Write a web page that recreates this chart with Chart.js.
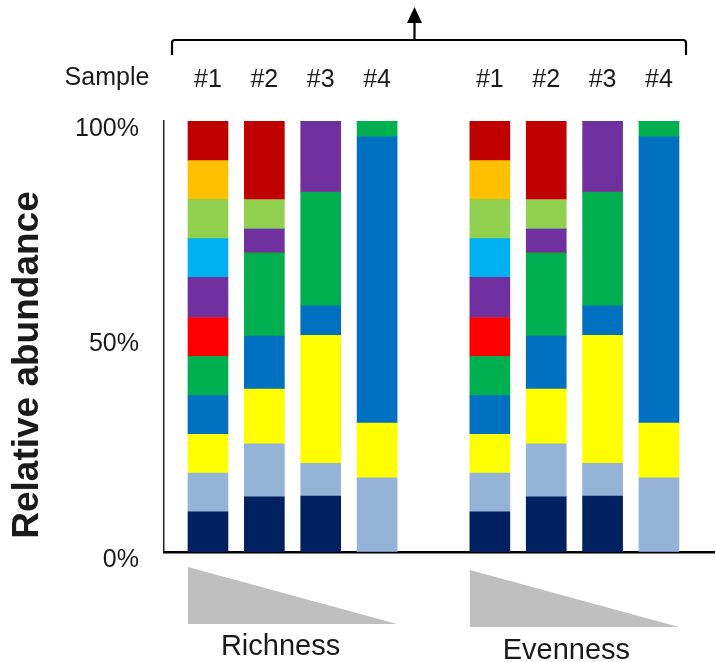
<!DOCTYPE html>
<html>
<head>
<meta charset="utf-8">
<script src="https://cdn.jsdelivr.net/npm/chart.js@4.4.1/dist/chart.umd.min.js"></script>
<style>
html, body { margin: 0; padding: 0; background: #fff; }
#wrap { width: 716px; height: 662px; }
</style>
</head>
<body>
<div id="wrap"><canvas id="chart" width="716" height="662"></canvas></div>
<script>
// x positions 0-3 = richness samples, 5-8 = evenness samples (4 is the gap)
const samplePositions = [0, 1, 2, 3, 5, 6, 7, 8];
const sampleLabels = ['#1', '#2', '#3', '#4', '#1', '#2', '#3', '#4'];
const groupLabels = ['Richness', 'Evenness'];
const yTickValues = [0, 50, 100];

// relative abundance (%) per taxon, listed from the bottom of the stack up
const taxonNavy       = [9.3, 12.8, 13.0, 0,    9.3, 12.8, 13.0, 0];
const taxonLightBlue  = [9.0, 12.3, 7.6,  17.2, 9.0, 12.3, 7.6,  17.2];
const taxonYellow     = [9.0, 12.7, 29.7, 12.7, 9.0, 12.7, 29.7, 12.7];
const taxonBlue       = [9.0, 12.3, 6.8,  66.4, 9.0, 12.3, 6.8,  66.4];
const taxonGreen      = [9.1, 19.3, 26.4, 3.7,  9.1, 19.3, 26.4, 3.7];
const taxonRed        = [9.0, 0,    0,    0,    9.0, 0,    0,    0];
const taxonPurple     = [9.3, 5.5,  16.5, 0,    9.3, 5.5,  16.5, 0];
const taxonCyan       = [9.0, 0,    0,    0,    9.0, 0,    0,    0];
const taxonLightGreen = [9.1, 6.8,  0,    0,    9.1, 6.8,  0,    0];
const taxonOrange     = [9.0, 0,    0,    0,    9.0, 0,    0,    0];
const taxonDarkRed    = [9.2, 18.3, 0,    0,    9.2, 18.3, 0,    0];

const taxa = [
    { name: 'Taxon 1', values: taxonNavy, color: '#002060' },
    { name: 'Taxon 2', values: taxonLightBlue, color: '#95B3D7' },
    { name: 'Taxon 3', values: taxonYellow, color: '#FFFF00' },
    { name: 'Taxon 4', values: taxonBlue, color: '#0070C0' },
    { name: 'Taxon 5', values: taxonGreen, color: '#00B050' },
    { name: 'Taxon 6', values: taxonRed, color: '#FF0000' },
    { name: 'Taxon 7', values: taxonPurple, color: '#7030A0' },
    { name: 'Taxon 8', values: taxonCyan, color: '#00B0F0' },
    { name: 'Taxon 9', values: taxonLightGreen, color: '#92D050' },
    { name: 'Taxon 10', values: taxonOrange, color: '#FFC000' },
    { name: 'Taxon 11', values: taxonDarkRed, color: '#C00000' }
];

const FONT = "'Liberation Sans', Arial, sans-serif";
const TEXT = '#1a1a1a';
const X_MIN = -0.78;
const X_MAX = 8.976;

const datasets = taxa.map(t => ({
    label: t.name,
    data: t.values.map((v, i) => ({ x: samplePositions[i], y: v })),
    backgroundColor: t.color,
    borderWidth: 0,
    barThickness: 40
}));

const decorations = {
    id: 'decorations',
    afterDraw(chart) {
        const ctx = chart.ctx;
        const xs = chart.scales.x;
        ctx.save();

        // "Sample" row title
        ctx.fillStyle = TEXT;
        ctx.font = '25px ' + FONT;
        ctx.textAlign = 'center';
        ctx.textBaseline = 'middle';
        ctx.fillText('Sample', 107, 78);

        // bracket with arrow
        ctx.strokeStyle = '#000';
        ctx.lineWidth = 2.2;
        ctx.beginPath();
        ctx.moveTo(172, 55);
        ctx.lineTo(172, 43);
        ctx.quadraticCurveTo(172, 40, 175, 40);
        ctx.lineTo(683, 40);
        ctx.quadraticCurveTo(686, 40, 686, 43);
        ctx.lineTo(686, 55);
        ctx.moveTo(414.5, 40);
        ctx.lineTo(414.5, 22);
        ctx.stroke();
        ctx.fillStyle = '#000';
        ctx.beginPath();
        ctx.moveTo(414.5, 7);
        ctx.lineTo(407, 23);
        ctx.lineTo(422, 23);
        ctx.closePath();
        ctx.fill();

        // y axis title
        ctx.fillStyle = TEXT;
        ctx.font = 'bold 37px ' + FONT;
        ctx.translate(28, 365);
        ctx.rotate(-Math.PI / 2);
        ctx.textAlign = 'center';
        ctx.textBaseline = 'middle';
        ctx.fillText('Relative abundance', 0, 0);
        ctx.setTransform(1, 0, 0, 1, 0, 0);

        // gradient triangles under each group
        const groups = [[0, 3, 567, 624], [5, 8, 570, 627]];
        groups.forEach((g, i) => {
            const left = xs.getPixelForValue(g[0]) - 20;
            const right = xs.getPixelForValue(g[1]) + 20;
            ctx.fillStyle = '#BFBFBF';
            ctx.beginPath();
            ctx.moveTo(left, g[2]);
            ctx.lineTo(left, g[3]);
            ctx.lineTo(right, g[3]);
            ctx.closePath();
            ctx.fill();
            ctx.fillStyle = TEXT;
            ctx.font = '29px ' + FONT;
            ctx.textAlign = 'center';
            ctx.textBaseline = 'middle';
            ctx.fillText(groupLabels[i], (left + right) / 2 - 12 + i * 4, 647 + i * 4);
        });
        ctx.restore();
    }
};

new Chart(document.getElementById('chart'), {
    type: 'bar',
    data: { datasets: datasets },
    options: {
        responsive: false,
        animation: false,
        layout: { padding: { left: 0, right: 2, top: 0, bottom: 0 } },
        plugins: {
            legend: { display: false },
            tooltip: { enabled: false }
        },
        scales: {
            x: {
                type: 'linear',
                position: 'top',
                stacked: true,
                offset: false,
                min: X_MIN,
                max: X_MAX,
                grid: { display: false, drawTicks: false, offset: false },
                border: { display: false },
                afterBuildTicks: axis => {
                    axis.ticks = samplePositions.map(v => ({ value: v }));
                },
                afterFit: axis => { axis.height = 121; },
                ticks: {
                    autoSkip: false,
                    maxRotation: 0,
                    padding: 26,
                    color: TEXT,
                    font: { family: FONT, size: 25 },
                    callback: (value, index) => sampleLabels[index]
                }
            },
            xb: {
                type: 'linear',
                position: 'bottom',
                offset: false,
                min: X_MIN,
                max: X_MAX,
                grid: { display: false, drawTicks: false },
                border: { display: true, color: '#000', width: 2.5 },
                ticks: { display: false },
                afterFit: axis => { axis.height = 110; }
            },
            y: {
                stacked: true,
                min: 0,
                max: 100,
                grid: { display: false, drawTicks: false },
                border: { display: true, color: '#222', width: 1.5 },
                afterBuildTicks: axis => {
                    axis.ticks = yTickValues.map(v => ({ value: v }));
                },
                afterFit: axis => { axis.width = 164; },
                ticks: {
                    padding: 25,
                    labelOffset: 8,
                    color: TEXT,
                    font: { family: FONT, size: 25 },
                    callback: v => v + '%'
                }
            }
        }
    },
    plugins: [decorations]
});
</script>
</body>
</html>
